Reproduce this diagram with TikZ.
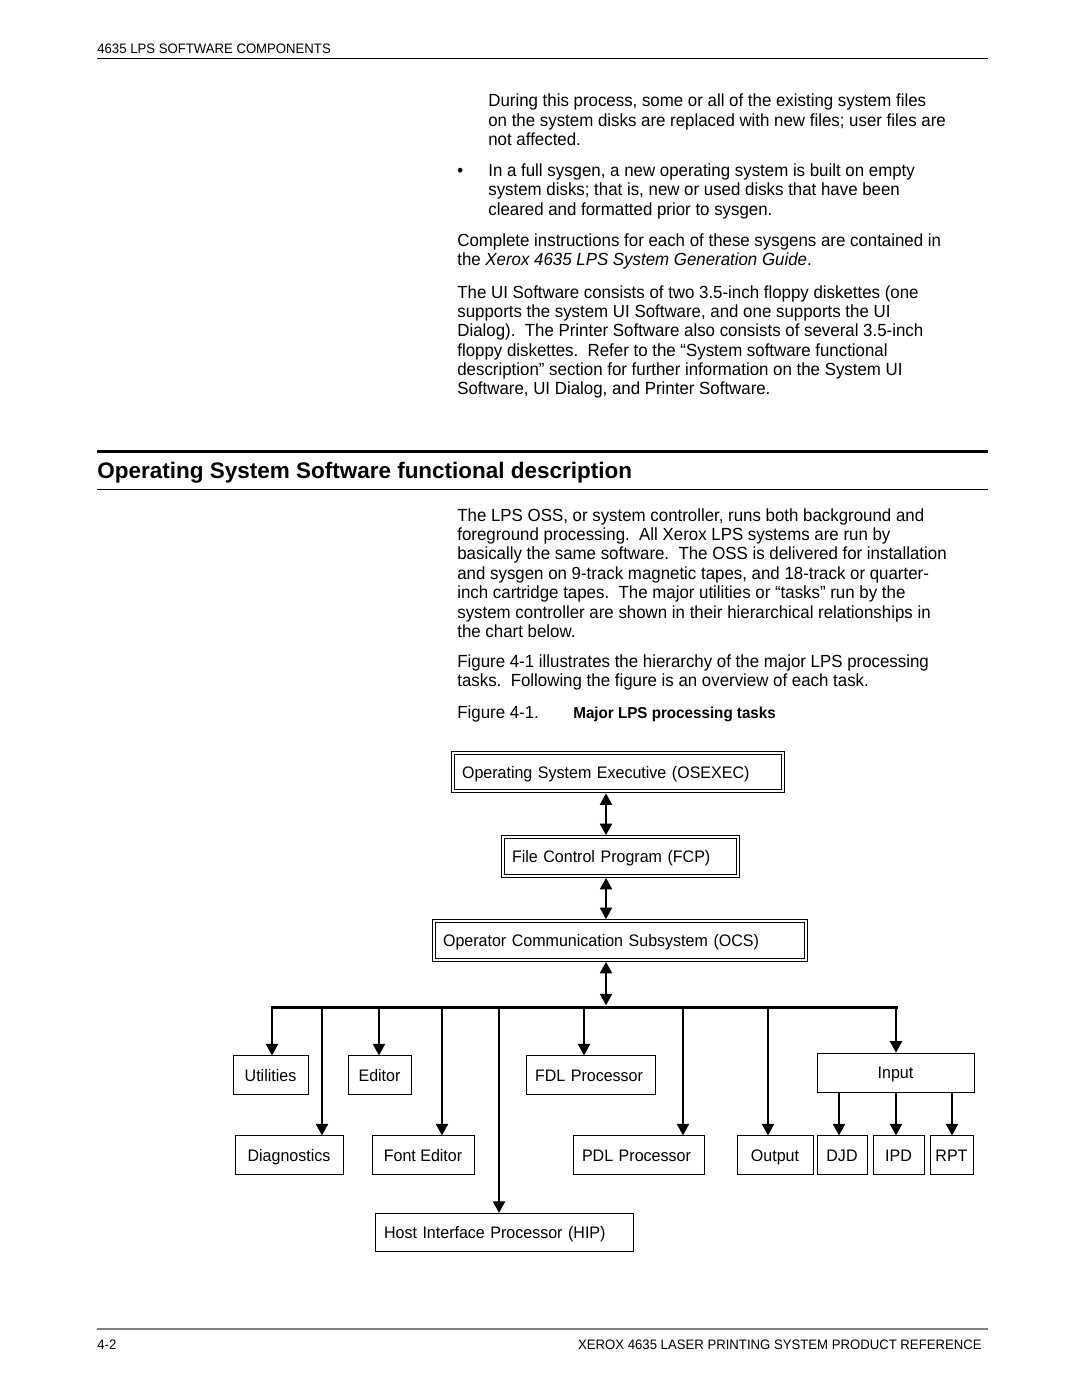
\documentclass[tikz,border=0pt]{standalone}
\usepackage{fontspec}
\setmainfont{Liberation Sans}[FakeStretch=0.96]
\newfontfamily\headfont{Liberation Sans}
\usetikzlibrary{arrows.meta}
\newcommand\txtsize{\fontsize{10}{11.03}\selectfont}
\newcommand\boxsize{\fontsize{9.5}{11}\selectfont}
\newcommand\runsize{\fontsize{7.8}{9}\selectfont}

\begin{document}
\begin{tikzpicture}[x=0.02cm, y=-0.02cm,
  para/.style={anchor=base west, inner sep=0pt, align=left, font=\txtsize},
  running/.style={anchor=base west, inner sep=0pt, font=\runsize},
  taskbox/.style={draw, line width=0.5pt, inner xsep=2pt, inner ysep=0pt, minimum height=0.77cm, text height=8pt, text depth=1pt, font=\boxsize},
  padded/.style={inner xsep=0.18cm, align=left},
  sysbox/.style={taskbox, padded, double, double distance=1.2pt},
  linkarrow/.style={{Triangle[width=7pt,length=6.5pt]}-{Triangle[width=7pt,length=6.5pt]}, line width=0.6pt, shorten <=1pt, shorten >=1pt},
  droparrow/.style={-{Triangle[width=7pt,length=6.5pt]}, line width=0.6pt}]
% Page
\path[fill=white] (0,0) rectangle (1080,1397);
% Running head and foot
\node[running] (header) at (97,53) {4635 LPS SOFTWARE COMPONENTS};
\draw[line width=0.5pt] (97,58.5) -- (988,58.5);
\draw[gray, line width=0.8pt] (97,1329) -- (988,1329);
\node[running] (pagenum) at (97,1349) {4-2};
\node[running, anchor=base east] (booktitle) at (982,1349) {XEROX 4635 LASER PRINTING SYSTEM PRODUCT REFERENCE};
% Text above the heading (anchored at the baseline of the last line)
\node[para] (during) at (488,145.4) {During this process, some or all of the existing system files\\on the system disks are replaced with new files; user files are\\not affected.};
\node[para] (bullet) at (457,176.3) {•};
\node[para] (fullsysgen) at (488,215.2) {In a full sysgen, a new operating system is built on empty\\system disks; that is, new or used disks that have been\\cleared and formatted prior to sysgen.};
\node[para] (complete) at (457,265.45) {Complete instructions for each of these sysgens are contained in\\the \textit{Xerox 4635 LPS System Generation Guide}.};
\node[para] (uisoftware) at (457,394.95) {The UI Software consists of two 3.5-inch floppy diskettes (one\\supports the system UI Software, and one supports the UI\\Dialog).\ \ The Printer Software also consists of several 3.5-inch\\floppy diskettes.\ \ Refer to the “System software functional\\description” section for further information on the System UI\\Software, UI Dialog, and Printer Software.};
% Heading
\draw[line width=1.5pt] (97,451.7) -- (988,451.7);
\node[anchor=base west, inner sep=0pt, font=\headfont\bfseries\fontsize{12.8}{14}\selectfont] (heading) at (97,478.3) {Operating System Software functional description};
\draw[line width=0.5pt] (97,489.3) -- (988,489.3);
% Text below the heading
\node[para] (lpsoss) at (457,637.4) {The LPS OSS, or system controller, runs both background and\\foreground processing.\ \ All Xerox LPS systems are run by\\basically the same software.\ \ The OSS is delivered for installation\\and sysgen on 9-track magnetic tapes, and 18-track or quarter-\\inch cartridge tapes.\ \ The major utilities or “tasks” run by the\\system controller are shown in their hierarchical relationships in\\the chart below.};
\node[para] (illustrates) at (457,686.75) {Figure 4-1 illustrates the hierarchy of the major LPS processing\\tasks.\ \ Following the figure is an overview of each task.};
\node[para] (fignum) at (457,718.3) {Figure 4-1.};
\node[para, font=\bfseries\fontsize{9}{11}\selectfont] (figtitle) at (573,718.3) {Major LPS processing tasks};
% Upper tasks
\node[sysbox, text width=6.24cm] (osexec) at (618,772) {Operating System Executive (OSEXEC)};
\node[sysbox, text width=4.34cm] (fcp) at (620.5,856.5) {File Control Program (FCP)};
\node[sysbox, text width=7.08cm] (ocs) at (620,940.5) {Operator Communication Subsystem (OCS)};
\coordinate (trunk) at (606,1007);
\draw[linkarrow] (osexec.south -| trunk) -- (fcp.north -| trunk);
\draw[linkarrow] (fcp.south -| trunk) -- (ocs.north -| trunk);
\draw[linkarrow] (ocs.south -| trunk) -- (trunk);
% Bus
\coordinate (bus-left) at (272,1007);
\coordinate (bus-right) at (896,1007);
\draw[line width=1.7pt, line cap=rect] (bus-left) -- (bus-right);
% Lower tasks
\node[taskbox, minimum width=1.5cm] (util) at (270.5,1075) {Utilities};
\node[taskbox, minimum width=2.16cm] (diag) at (289,1155) {Diagnostics};
\node[taskbox, minimum width=1.26cm] (editor) at (379.5,1075) {Editor};
\node[taskbox, minimum width=2.04cm] (fonted) at (423,1155) {Font Editor};
\node[taskbox, padded, text width=4.8cm] (hip) at (504,1232.5) {Host Interface Processor (HIP)};
\node[taskbox, padded, text width=2.22cm] (fdl) at (590.5,1075) {FDL Processor};
\node[taskbox, padded, text width=2.26cm] (pdl) at (638.5,1155) {PDL Processor};
\node[taskbox, minimum width=1.52cm] (output) at (775,1155) {Output};
\node[taskbox, minimum width=3.14cm, minimum height=0.78cm] (input) at (895.5,1072.5) {Input};
\node[taskbox, minimum width=1.0cm] (djd) at (842,1155) {DJD};
\node[taskbox, minimum width=1.02cm] (ipd) at (898.5,1155) {IPD};
\node[taskbox, minimum width=0.86cm] (rpt) at (951.5,1155) {RPT};
% Drops from the bus and from Input
\foreach \dx/\target in {272/util, 322/diag, 379/editor, 442/fonted, 499/hip, 584/fdl, 683/pdl, 768/output, 896/input}
  \draw[droparrow] (\dx,0 |- bus-left) -- (\dx,0 |- \target.north);
\foreach \dx/\target in {839/djd, 896/ipd, 952/rpt}
  \draw[droparrow] (\dx,0 |- input.south) -- (\dx,0 |- \target.north);
\end{tikzpicture}
\end{document}
